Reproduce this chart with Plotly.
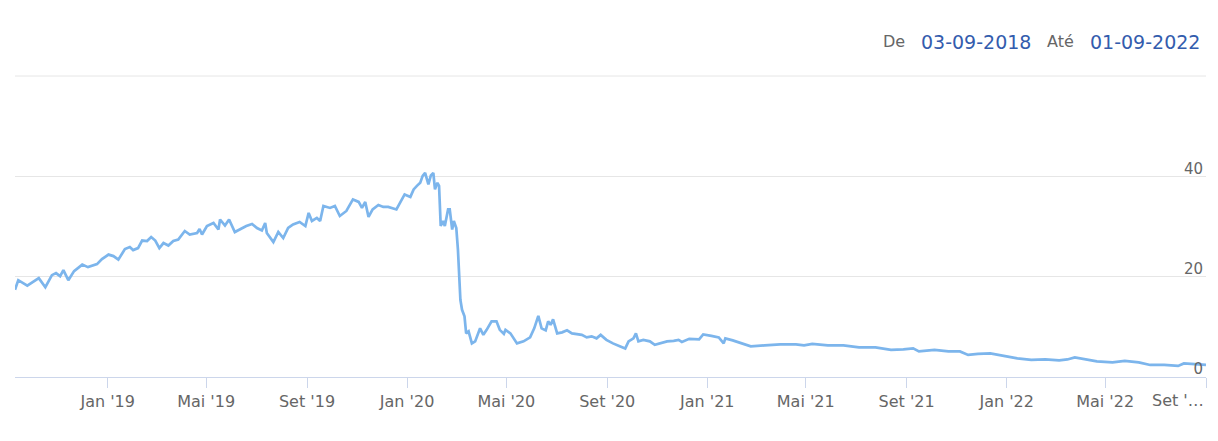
import plotly.graph_objects as go
import pandas as pd

dates = [
    "2018-09-10", "2018-09-14", "2018-09-25", "2018-10-09", "2018-10-17", "2018-10-25",
    "2018-10-30", "2018-11-04", "2018-11-08", "2018-11-14", "2018-11-21", "2018-12-01",
    "2018-12-08", "2018-12-19", "2018-12-25", "2019-01-02", "2019-01-08", "2019-01-14",
    "2019-01-22", "2019-01-28", "2019-02-01", "2019-02-07", "2019-02-12", "2019-02-18",
    "2019-02-23", "2019-02-28", "2019-03-05", "2019-03-10", "2019-03-16", "2019-03-22",
    "2019-03-28", "2019-04-05", "2019-04-11", "2019-04-20", "2019-04-23", "2019-04-26",
    "2019-05-02", "2019-05-10", "2019-05-16", "2019-05-18", "2019-05-24", "2019-05-29",
    "2019-06-05", "2019-06-11", "2019-06-19", "2019-06-26", "2019-07-02", "2019-07-08",
    "2019-07-12", "2019-07-14", "2019-07-22", "2019-07-28", "2019-08-03", "2019-08-09",
    "2019-08-15", "2019-08-23", "2019-08-30", "2019-09-03", "2019-09-07", "2019-09-13",
    "2019-09-17", "2019-09-21", "2019-09-29", "2019-10-05", "2019-10-11", "2019-10-19",
    "2019-10-27", "2019-11-03", "2019-11-07", "2019-11-11", "2019-11-15", "2019-11-20",
    "2019-11-27", "2019-12-03", "2019-12-09", "2019-12-19", "2019-12-23", "2019-12-29",
    "2020-01-05", "2020-01-09", "2020-01-13", "2020-01-17", "2020-01-20", "2020-01-23",
    "2020-01-27", "2020-01-30", "2020-02-02", "2020-02-04", "2020-02-07", "2020-02-09",
    "2020-02-11", "2020-02-14", "2020-02-16", "2020-02-20", "2020-02-22", "2020-02-25",
    "2020-02-27", "2020-03-01", "2020-03-03", "2020-03-06", "2020-03-08", "2020-03-11",
    "2020-03-13", "2020-03-16", "2020-03-20", "2020-03-24", "2020-03-30", "2020-04-03",
    "2020-04-07", "2020-04-13", "2020-04-19", "2020-04-23", "2020-04-28", "2020-04-30",
    "2020-05-06", "2020-05-14", "2020-05-22", "2020-05-30", "2020-06-04", "2020-06-09",
    "2020-06-13", "2020-06-18", "2020-06-21", "2020-06-24", "2020-06-27", "2020-07-02",
    "2020-07-08", "2020-07-14", "2020-07-20", "2020-07-26", "2020-08-01", "2020-08-07",
    "2020-08-13", "2020-08-19", "2020-08-24", "2020-08-31", "2020-09-08", "2020-09-17",
    "2020-09-23", "2020-09-27", "2020-10-03", "2020-10-06", "2020-10-09", "2020-10-15",
    "2020-10-23", "2020-10-29", "2020-11-06", "2020-11-13", "2020-11-21", "2020-11-27",
    "2020-12-01", "2020-12-10", "2020-12-22", "2020-12-27", "2021-01-06", "2021-01-15",
    "2021-01-21", "2021-01-23", "2021-02-01", "2021-02-13", "2021-02-23", "2021-03-12",
    "2021-03-31", "2021-04-19", "2021-04-29", "2021-05-09", "2021-05-28", "2021-06-16",
    "2021-07-05", "2021-07-25", "2021-08-13", "2021-08-28", "2021-09-09", "2021-09-16",
    "2021-10-05", "2021-10-22", "2021-11-05", "2021-11-15", "2021-11-27", "2021-12-12",
    "2021-12-21", "2021-12-31", "2022-01-14", "2022-01-31", "2022-02-17", "2022-03-06",
    "2022-03-16", "2022-03-25", "2022-04-06", "2022-04-21", "2022-05-10", "2022-05-25",
    "2022-06-11", "2022-06-25", "2022-07-12", "2022-07-29", "2022-08-05", "2022-08-20",
    "2022-08-29", "2022-09-01",
]

values = [
    17.4, 19.3, 18.2, 19.7, 17.9, 20.3,
    20.7, 20.1, 21.3, 19.3, 21.1, 22.4,
    21.9, 22.5, 23.5, 24.4, 24.1, 23.4,
    25.5, 25.9, 25.3, 25.7, 27.2, 27.1,
    27.9, 27.2, 25.7, 26.7, 26.2, 27.1,
    27.4, 29.1, 28.4, 28.7, 29.5, 28.4,
    30.1, 30.7, 29.4, 31.4, 30.2, 31.4,
    28.9, 29.4, 30.1, 30.5, 29.7, 29.2,
    30.7, 28.7, 26.9, 28.9, 27.7, 29.7,
    30.4, 30.9, 30.1, 32.7, 31.1, 31.7,
    31.1, 34.1, 33.7, 34.1, 32.1, 33.1,
    35.4, 34.9, 33.7, 34.9, 31.9, 33.4,
    34.3, 33.9, 33.9, 33.4, 34.7, 36.4,
    35.9, 37.4, 38.1, 38.7, 40.1, 40.7,
    38.4, 40.2, 40.7, 37.4, 38.7, 38.1,
    30.1, 31.1, 30.1, 33.4, 33.4, 29.4,
    31.1, 29.7, 25.4, 15.4, 13.4, 12.1,
    8.7, 9.1, 6.7, 7.1, 9.7, 8.4,
    9.4, 11.1, 11.1, 9.4, 8.6, 9.4,
    8.7, 6.7, 7.1, 7.9, 9.7, 12.2,
    9.7, 9.3, 11.1, 10.4, 11.5, 8.7,
    8.9, 9.3, 8.7, 8.6, 8.4, 7.9,
    8.1, 7.7, 8.4, 7.4, 6.7, 6.1,
    5.7, 7.1, 7.7, 8.7, 7.1, 7.4,
    7.1, 6.4, 6.7, 7.1, 7.2, 7.4,
    7.0, 7.6, 7.5, 8.5, 8.2, 7.9,
    6.7, 7.7, 7.3, 6.6, 6.1, 6.3,
    6.5, 6.5, 6.3, 6.6, 6.3, 6.3,
    5.9, 5.9, 5.4, 5.5, 5.7, 5.1,
    5.4, 5.1, 5.1, 4.4, 4.6, 4.7,
    4.4, 4.1, 3.7, 3.4, 3.5, 3.3,
    3.5, 3.9, 3.5, 3.1, 2.9, 3.2,
    2.9, 2.4, 2.4, 2.2, 2.7, 2.5,
    2.4, 2.4,
]

tick_dates = ["2019-01-01", "2019-05-01", "2019-09-01", "2020-01-01", "2020-05-01",
              "2020-09-01", "2021-01-01", "2021-05-01", "2021-09-01", "2022-01-01",
              "2022-05-01", "2022-09-01"]
tick_labels = ["Jan '19", "Mai '19", "Set '19", "Jan '20", "Mai '20", "Set '20",
               "Jan '21", "Mai '21", "Set '21", "Jan '22", "Mai '22", ""]
last_tick_label = "Set '…"

y_ticks = [0, 20, 40]
y_labels = ["0", "20", "40"]
y_top = 60

range_from = "03-09-2018"
range_to = "01-09-2022"

FONT = "DejaVu Sans"
GREY = "#666666"
BLUE_TXT = "#335cad"

# the page body adds an 8px offset; margins compensate so the plot sits at
# x 15..1206, y 76..377 in the browser window
fig = go.Figure()
fig.add_trace(go.Scatter(
    x=pd.to_datetime(dates), y=values, mode="lines",
    line=dict(color="#7cb5ec", width=2.7),
    hoverinfo="x+y", showlegend=False,
))

fig.update_layout(
    width=1218, height=441,
    margin=dict(l=7, r=20, t=68, b=72, autoexpand=False),
    paper_bgcolor="white", plot_bgcolor="white",
    font=dict(family=FONT, color=GREY, size=15),
    xaxis=dict(
        type="date", automargin=False,
        range=[dates[0], dates[-1]],
        tickvals=tick_dates, ticktext=tick_labels,
        ticks="outside", ticklen=10, tickcolor="#ccd6eb", tickwidth=1,
        showline=True, linecolor="#ccd6eb", linewidth=1,
        showgrid=False, zeroline=False,
        tickfont=dict(family=FONT, size=16, color=GREY),
    ),
    yaxis=dict(
        range=[0, y_top], side="right", automargin=False,
        tickvals=y_ticks, ticktext=y_labels,
        ticklabelposition="inside", ticklabelshift=-8,
        ticklabeloverflow="allow",
        showgrid=True, gridcolor="#e6e6e6", gridwidth=1,
        zeroline=False, showline=False, ticks="",
        tickfont=dict(family=FONT, size=15, color=GREY),
    ),
)

# top gridline at the upper end of the value axis (drawn unclipped)
fig.add_shape(type="line", xref="paper", yref="paper", x0=0, x1=1, y0=1, y1=1,
              line=dict(color="#e6e6e6", width=1), layer="below")

def px_x(px):
    return (px - 15) / 1191.0

def px_y(py):
    return (377 - py) / 301.0

fig.add_annotation(x=1, y=0, xref="paper", yref="paper", xanchor="right", yanchor="middle",
                   yshift=-23, text=last_tick_label, showarrow=False,
                   font=dict(family=FONT, size=16, color=GREY))

for txt, cx, col, sz in [("De", 894, GREY, 16), (range_from, 976, BLUE_TXT, 19),
                         ("Até", 1060, GREY, 16), (range_to, 1145, BLUE_TXT, 19)]:
    fig.add_annotation(x=px_x(cx), y=px_y(42), xref="paper", yref="paper",
                       xanchor="center", yanchor="middle", text=txt, showarrow=False,
                       font=dict(family=FONT, size=sz, color=col))

fig.write_html("out.html")
